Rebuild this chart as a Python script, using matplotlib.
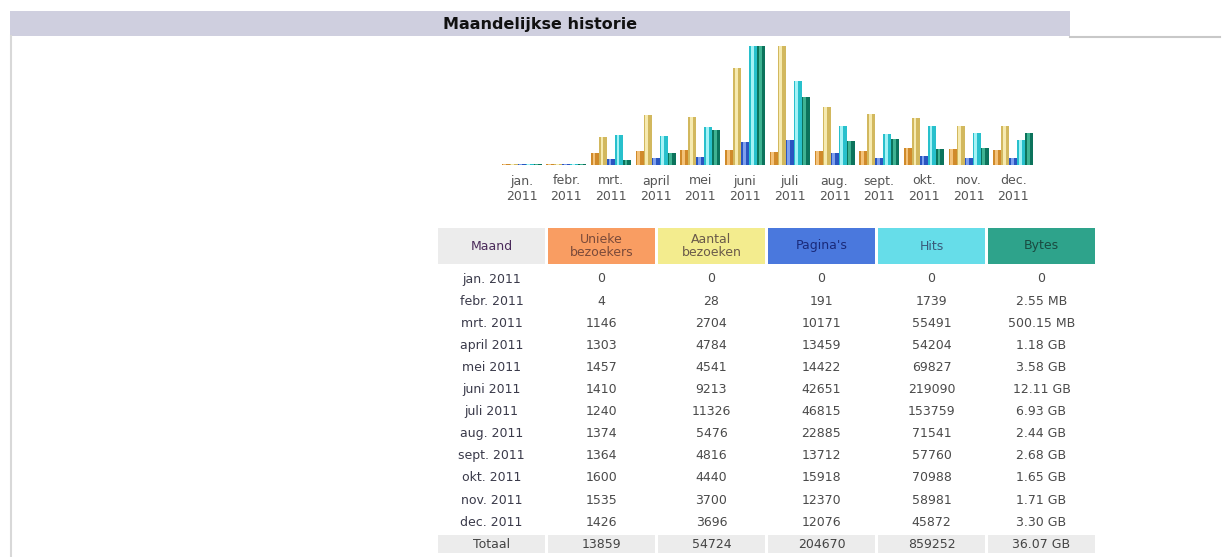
import numpy as np
import matplotlib.pyplot as plt
from matplotlib.patches import Rectangle

maanden = ["jan.", "febr.", "mrt.", "april", "mei", "juni",
           "juli", "aug.", "sept.", "okt.", "nov.", "dec."]
jaar = "2011"
unieke = [0, 4, 1146, 1303, 1457, 1410, 1240, 1374, 1364, 1600, 1535, 1426]
bezoeken = [0, 28, 2704, 4784, 4541, 9213, 11326, 5476, 4816, 4440, 3700, 3696]
paginas = [0, 191, 10171, 13459, 14422, 42651, 46815, 22885, 13712, 15918, 12370, 12076]
hits = [0, 1739, 55491, 54204, 69827, 219090, 153759, 71541, 57760, 70988, 58981, 45872]
bytes_gb = [0, 0.00255, 0.50015, 1.18, 3.58, 12.11, 6.93, 2.44, 2.68, 1.65, 1.71, 3.30]
bytes_txt = ["0", "2.55 MB", "500.15 MB", "1.18 GB", "3.58 GB", "12.11 GB", "6.93 GB",
             "2.44 GB", "2.68 GB", "1.65 GB", "1.71 GB", "3.30 GB"]
totaal = ["Totaal", "13859", "54724", "204670", "859252", "36.07 GB"]

W, H = 1227, 557
fs = 9
fig = plt.figure(figsize=(W / 100, H / 100), dpi=100)
fig.patch.set_facecolor("white")

# achtergrond-as in pixels
bg = fig.add_axes([0, 0, 1, 1])
bg.set_xlim(0, W)
bg.set_ylim(H, 0)
bg.axis("off")

# titelbalk
bg.add_patch(Rectangle((10, 11), 1060, 25, facecolor="#cfcfdf", edgecolor="none"))
bg.text(540, 24, "Maandelijkse historie", ha="center", va="center",
        fontsize=11.5, fontweight="bold", color="#111111")
bg.plot([1070, 1220], [36.5, 36.5], color="#c8c8c8", lw=1.5)
bg.plot([10.5, 10.5], [36, H], color="#d8d8d8", lw=1.5)

# staafdiagram
px = 44.7
c0 = 521.6
left = c0 - px / 2
right = c0 + 11.5 * px
base, top = 165, 46
ax = fig.add_axes([left / W, 1 - base / H, (right - left) / W, (base - top) / H])
ax.set_xlim(-0.5, 11.5)
ax.set_ylim(0, 1)
ax.axis("off")

reeksen = [
    (np.array(unieke) / max(bezoeken), "#d08a2a", "#f3c27a"),
    (np.array(bezoeken) / max(bezoeken), "#d2b85e", "#f6eab0"),
    (np.array(paginas) / max(hits), "#2a55c0", "#7ea0ee"),
    (np.array(hits) / max(hits), "#28c0cc", "#a4f2f6"),
    (np.array(bytes_gb) / max(bytes_gb), "#0c735c", "#3fb393"),
]
bw = 8 / px
x = np.arange(len(maanden))
for k, (h, donker, licht) in enumerate(reeksen):
    h = np.maximum(h, 0.012)
    pos = x + (k - 2) * bw
    ax.bar(pos, h, width=bw, color=donker, linewidth=0)
    ax.bar(pos - bw * 0.12, h, width=bw * 0.35, color=licht, linewidth=0)

for i, m in enumerate(maanden):
    cx = c0 + i * px
    bg.text(cx, 181, m, ha="center", va="center", fontsize=fs, color="#555555")
    bg.text(cx, 196, jaar, ha="center", va="center", fontsize=fs, color="#555555")

# tabel
kol = [438, 548, 658, 768, 878, 988]
kb = 107
koppen = ["Maand", "Unieke\nbezoekers", "Aantal\nbezoeken", "Pagina's", "Hits", "Bytes"]
kleuren = ["#ececec", "#f99d62", "#f3ec8e", "#4a78dd", "#66dde9", "#2ea38b"]
tekstkleur = ["#4a2a5a", "#7a4a3a", "#6a5a4a", "#1a2a7a", "#3a5a7a", "#1a4a40"]
for xk, t, c, tc in zip(kol, koppen, kleuren, tekstkleur):
    bg.add_patch(Rectangle((xk, 228), kb, 36, facecolor=c, edgecolor="none"))
    bg.text(xk + kb / 2, 246, t, ha="center", va="center", fontsize=fs,
            color=tc, linespacing=0.95)

for i, m in enumerate(maanden):
    y = 279 + 22.1 * i
    rij = [f"{m} {jaar}", str(unieke[i]), str(bezoeken[i]), str(paginas[i]),
           str(hits[i]), bytes_txt[i]]
    for xk, t in zip(kol, rij):
        bg.text(xk + kb / 2, y, t, ha="center", va="center", fontsize=fs,
                color="#4a4a4a" if t != rij[0] else "#3a3a4a")

for xk, t in zip(kol, totaal):
    bg.add_patch(Rectangle((xk, 535), kb, 18, facecolor="#ececec", edgecolor="none"))
    bg.text(xk + kb / 2, 544, t, ha="center", va="center", fontsize=fs, color="#444444")

fig.savefig("out.png", dpi=100)
